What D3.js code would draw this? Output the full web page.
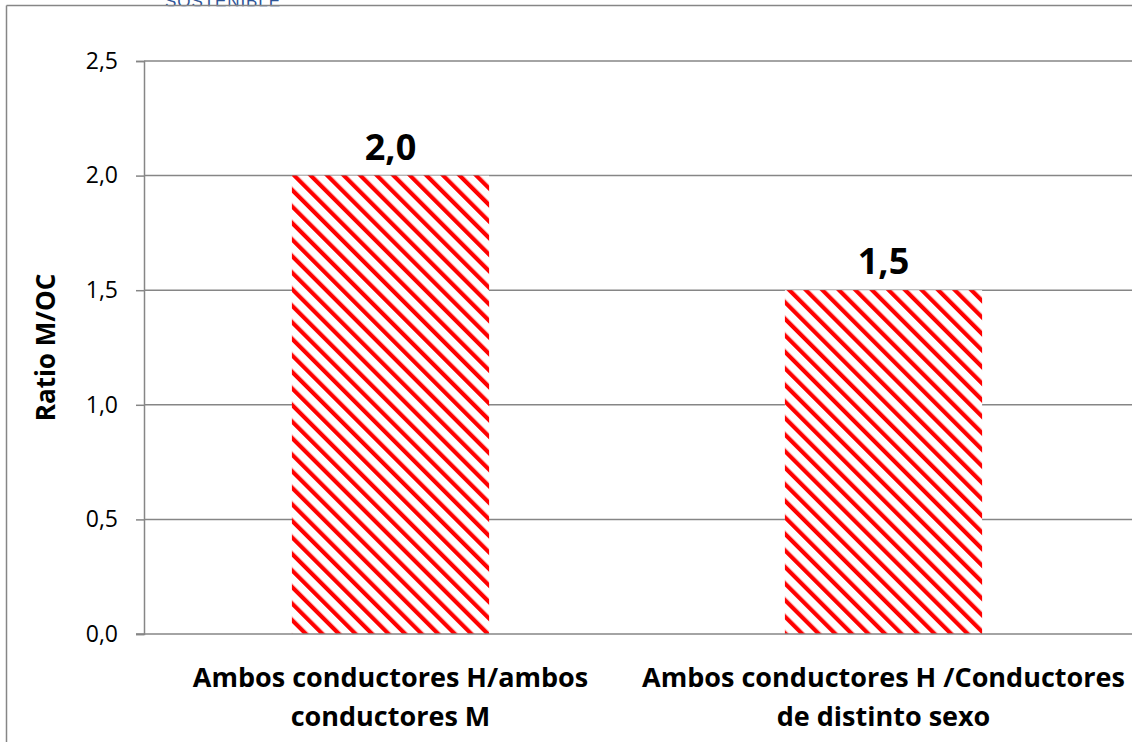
<!DOCTYPE html>
<html>
<head>
<meta charset="utf-8">
<script src="https://cdn.jsdelivr.net/npm/d3@7"></script>
<style>
  html, body { margin: 0; padding: 0; background: #fff; }
  svg { display: block; }
</style>
</head>
<body>
<div id="chart"></div>
<script>
// Ratio M/OC by driver-sex combination
const categories = [
  ["Ambos conductores H/ambos", "conductores M"],
  ["Ambos conductores H /Conductores", "de distinto sexo"]
];
const ratioValues = [2.0, 1.5];
const yTicks = [0, 0.5, 1.0, 1.5, 2.0, 2.5];
const yTitle = "Ratio M/OC";
const headerText = "SOSTENIBLE";

const W = 1132, H = 742;
const margin = { left: 144, right: 2, top: 61, bottom: 108 };
const fontFam = "'Open Sans', 'Noto Sans', sans-serif";
const gridColor = "#868686";

const svg = d3.select("#chart").append("svg")
  .attr("width", W).attr("height", H);

// red diagonal hatch fill
const defs = svg.append("defs");
const pat = defs.append("pattern")
  .attr("id", "hatch")
  .attr("patternUnits", "userSpaceOnUse")
  .attr("width", 11.7).attr("height", 11.7)
  .attr("patternTransform", "rotate(-45)");
pat.append("rect").attr("width", 11.7).attr("height", 11.7).attr("fill", "#fff");
pat.append("rect").attr("x", 0).attr("y", 0).attr("width", 4.2).attr("height", 11.7).attr("fill", "#ff0000");

// header text above the frame, lower part only
svg.append("text")
  .attr("x", 165).attr("y", 7)
  .attr("textLength", 115)
  .attr("font-family", "'Liberation Sans', Arial, sans-serif")
  .attr("font-size", 17)
  .attr("fill", "#2F5597")
  .text(headerText);
svg.append("rect").attr("x", 7.5).attr("y", 6.3).attr("width", W).attr("height", 20).attr("fill", "#fff");

// outer frame (left and top edges visible)
svg.append("line").attr("x1", 6.5).attr("x2", 6.5).attr("y1", 5.5).attr("y2", H)
  .attr("stroke", gridColor).attr("stroke-width", 1.5);
svg.append("line").attr("x1", 6.5).attr("x2", W).attr("y1", 5.5).attr("y2", 5.5)
  .attr("stroke", gridColor).attr("stroke-width", 1.5);

const x = d3.scaleBand()
  .domain(d3.range(categories.length))
  .range([margin.left, W - margin.right])
  .paddingInner(0.6).paddingOuter(0.3);

const y = d3.scaleLinear()
  .domain([0, 2.5])
  .range([H - margin.bottom, margin.top]);

const fmt = v => d3.format(".1f")(v).replace(".", ",");

// gridlines
svg.append("g").selectAll("line").data(yTicks.filter(t => t > 0)).join("line")
  .attr("x1", margin.left).attr("x2", W)
  .attr("y1", d => y(d)).attr("y2", d => y(d))
  .attr("stroke", gridColor).attr("stroke-width", 1.5);

// y axis
const yAxis = svg.append("g")
  .attr("transform", `translate(${margin.left},0)`)
  .call(d3.axisLeft(y).tickValues(yTicks).tickFormat(fmt).tickSize(8).tickPadding(18));
yAxis.select(".domain").attr("stroke", gridColor).attr("stroke-width", 1.5);
yAxis.selectAll(".tick line").attr("stroke", gridColor).attr("stroke-width", 1.5);
yAxis.selectAll(".tick text")
  .attr("font-family", fontFam).attr("font-size", 23).attr("fill", "#000");

// bars
svg.append("g").selectAll("rect").data(ratioValues).join("rect")
  .attr("x", (d, i) => x(i))
  .attr("y", d => y(d))
  .attr("width", x.bandwidth())
  .attr("height", d => y(0) - y(d))
  .attr("fill", "url(#hatch)");

// x baseline
svg.append("line")
  .attr("x1", margin.left - 8).attr("x2", W)
  .attr("y1", y(0)).attr("y2", y(0))
  .attr("stroke", gridColor).attr("stroke-width", 1.5);

// value labels
svg.append("g").selectAll("text").data(ratioValues).join("text")
  .attr("x", (d, i) => x(i) + x.bandwidth() / 2)
  .attr("y", d => y(d) - 16)
  .attr("text-anchor", "middle")
  .attr("font-family", fontFam).attr("font-weight", "bold").attr("font-size", 36)
  .attr("fill", "#000")
  .text(fmt);

// category labels
const catG = svg.append("g").selectAll("text").data(categories).join("text")
  .attr("text-anchor", "middle")
  .attr("font-family", fontFam).attr("font-weight", "bold").attr("font-size", 27)
  .attr("fill", "#000");
catG.selectAll("tspan").data((d, i) => d.map(s => ({ s, i }))).join("tspan")
  .attr("x", d => x(d.i) + x.bandwidth() / 2)
  .attr("y", (d, j) => y(0) + 53 + j * 39)
  .text(d => d.s);

// y axis title
svg.append("text")
  .attr("transform", `translate(55,${(y(0) + y(2.5)) / 2}) rotate(-90)`)
  .attr("text-anchor", "middle")
  .attr("font-family", fontFam).attr("font-weight", "bold").attr("font-size", 26)
  .attr("fill", "#000")
  .text(yTitle);
</script>
</body>
</html>
